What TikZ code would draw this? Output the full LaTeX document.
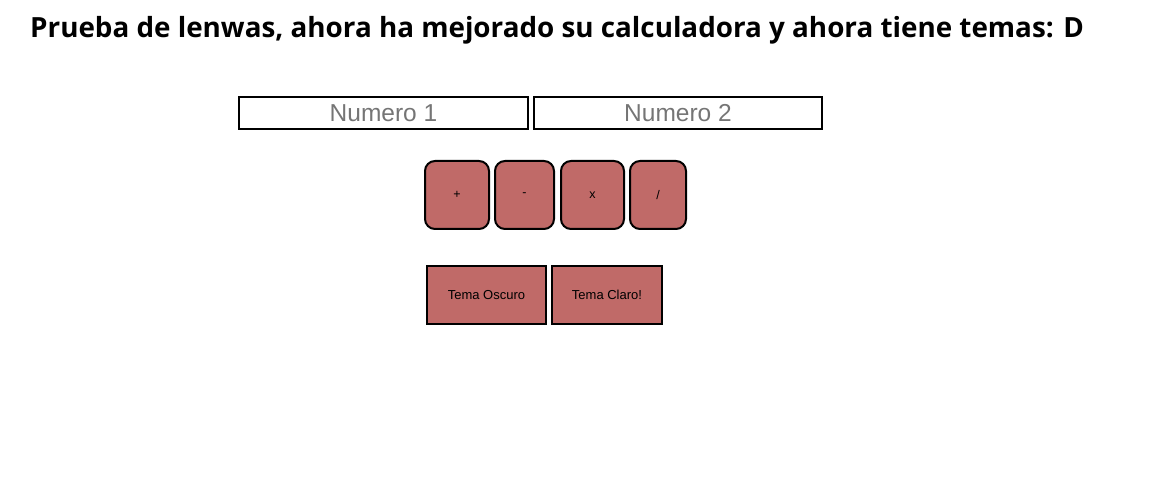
\documentclass[tikz,border=0pt]{standalone}
\usepackage{fontspec}
\setmainfont{Liberation Sans}
\newfontfamily\titlefont{Open Sans}
\definecolor{btnred}{RGB}{192,106,104}
\definecolor{hintgray}{RGB}{117,117,117}
\begin{document}
\begin{tikzpicture}[x=1pt,y=-1pt,
  campo/.style={draw, line width=2pt, inner sep=0pt, minimum height=32pt, text=hintgray, font=\fontsize{24.5}{26}\selectfont},
  oper/.style={draw, line width=2pt, fill=btnred, rounded corners=10pt, inner sep=0pt, minimum height=68pt, font=\fontsize{12.5}{14}\selectfont},
  tema/.style={draw, line width=2pt, fill=btnred, inner sep=0pt, minimum height=58pt, font=\fontsize{13}{14}\selectfont}]
\useasboundingbox (0,0) rectangle (1157,489);
\node[anchor=base west, inner sep=0pt, font=\titlefont\bfseries\fontsize{27.8}{32}\selectfont] (titulo) at (30,38) {Prueba de lenwas, ahora ha mejorado su calculadora y ahora tiene temas: D};
\node[campo, minimum width=289pt] (num1) at (383.5,113) {Numero 1};
\node[campo, minimum width=288pt] (num2) at (678,113) {Numero 2};
\node[oper, minimum width=64pt] (suma) at (457,195) {+};
\node[oper, minimum width=59pt] (resta) at (524.5,195) {-};
\node[oper, minimum width=63pt] (mult) at (592.5,195) {x};
\node[oper, minimum width=56pt] (divi) at (658,195) {/};
\node[tema, minimum width=119pt] (oscuro) at (486.5,295) {Tema Oscuro};
\node[tema, minimum width=110pt] (claro) at (607,295) {Tema Claro!};
\end{tikzpicture}
\end{document}
